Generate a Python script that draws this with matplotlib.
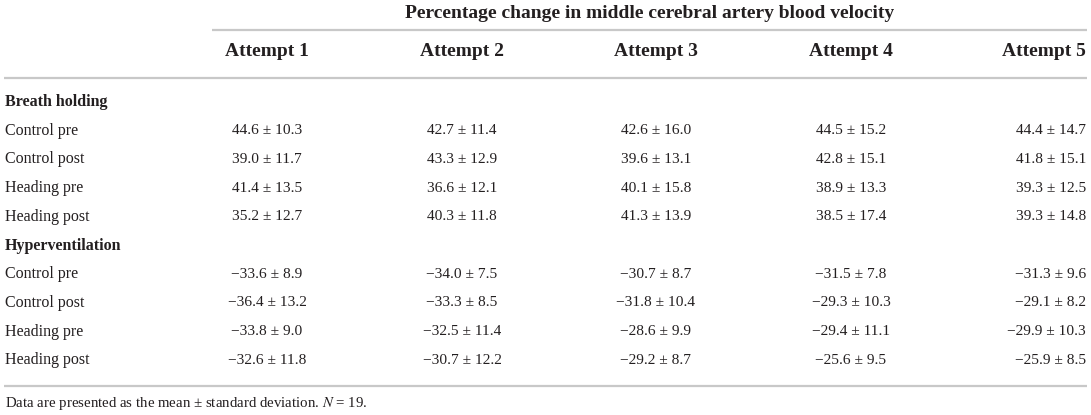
import matplotlib
matplotlib.use("Agg")
import matplotlib.pyplot as plt

plt.rcParams["font.family"] = ["Liberation Serif", "DejaVu Serif"]
plt.rcParams["mathtext.fontset"] = "stix"

title = "Percentage change in middle cerebral artery blood velocity"
attempts = ["Attempt 1", "Attempt 2", "Attempt 3", "Attempt 4", "Attempt 5"]
conditions = ["Control pre", "Control post", "Heading pre", "Heading post"]
sections = ["Breath holding", "Hyperventilation"]

# mean, sd per condition, attempts 1..5
breath_mean = [[44.6, 42.7, 42.6, 44.5, 44.4],
               [39.0, 43.3, 39.6, 42.8, 41.8],
               [41.4, 36.6, 40.1, 38.9, 39.3],
               [35.2, 40.3, 41.3, 38.5, 39.3]]
breath_sd = [[10.3, 11.4, 16.0, 15.2, 14.7],
             [11.7, 12.9, 13.1, 15.1, 15.1],
             [13.5, 12.1, 15.8, 13.3, 12.5],
             [12.7, 11.8, 13.9, 17.4, 14.8]]
hyper_mean = [[-33.6, -34.0, -30.7, -31.5, -31.3],
              [-36.4, -33.3, -31.8, -29.3, -29.1],
              [-33.8, -32.5, -28.6, -29.4, -29.9],
              [-32.6, -30.7, -29.2, -25.6, -25.9]]
hyper_sd = [[8.9, 7.5, 8.7, 7.8, 9.6],
            [13.2, 8.5, 10.4, 10.3, 8.2],
            [9.0, 11.4, 9.9, 11.1, 10.3],
            [11.8, 12.2, 8.7, 9.5, 8.5]]
footnote = "Data are presented as the mean \u00b1 standard deviation. $N$ = 19."

W, H = 1091, 415
txt = "#231f20"
rule = "#c8c8c8"

fig = plt.figure(figsize=(W / 100, H / 100), dpi=100)
ax = fig.add_axes([0, 0, 1, 1])
ax.set_xlim(0, W)
ax.set_ylim(H, 0)
ax.axis("off")


def fmt(m, s):
    ms = f"{abs(m):.1f}"
    if m < 0:
        ms = "\u2212" + ms
    return f"{ms} \u00b1 {s:.1f}"


col_x = [267, 462, 656, 851, 1086]
label_x = 5
row_h = 28.7

# header
ax.text(650, 13, title, ha="center", va="center", fontsize=14,
        fontweight="bold", color=txt)
ax.plot([212, 1087], [30, 30], color=rule, lw=1.6, solid_capstyle="butt")
for i, a in enumerate(attempts):
    ha = "right" if i == len(attempts) - 1 else "center"
    ax.text(col_x[i], 52, a, ha=ha, va="center", fontsize=14,
            fontweight="bold", color=txt)
ax.plot([4, 1087], [78, 78], color=rule, lw=1.6, solid_capstyle="butt")

y = 102
for sec, means, sds in zip(sections, [breath_mean, hyper_mean],
                           [breath_sd, hyper_sd]):
    ax.text(label_x, y, sec, ha="left", va="center", fontsize=11.5,
            fontweight="bold", color=txt)
    y += row_h
    for cond, mrow, srow in zip(conditions, means, sds):
        ax.text(label_x, y, cond, ha="left", va="center", fontsize=11.5,
                color=txt)
        for i, (m, s) in enumerate(zip(mrow, srow)):
            ha = "right" if i == len(mrow) - 1 else "center"
            ax.text(col_x[i], y, fmt(m, s), ha=ha, va="center",
                    fontsize=11.1, color=txt)
        y += row_h

ax.plot([4, 1087], [386, 386], color=rule, lw=1.6, solid_capstyle="butt")
ax.text(label_x, 403, footnote, ha="left", va="center", fontsize=10.7,
        color=txt)

fig.savefig("out.png", dpi=100, facecolor="white")
